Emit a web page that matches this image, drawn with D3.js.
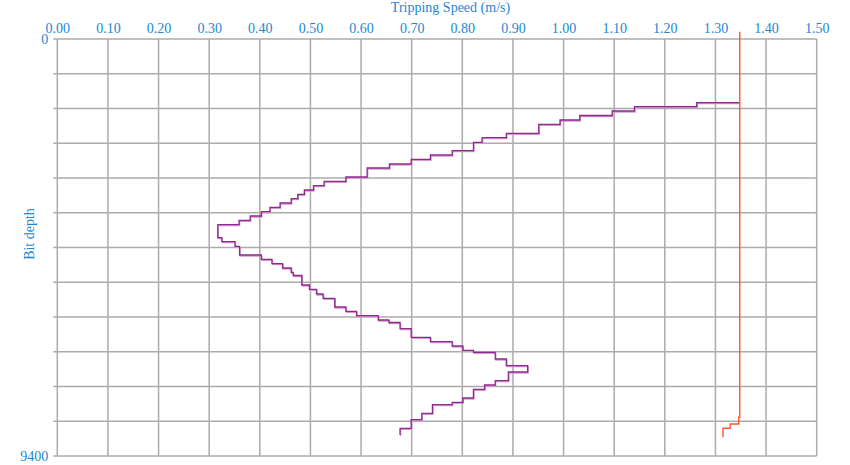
<!DOCTYPE html>
<html>
<head>
<meta charset="utf-8">
<script src="https://cdn.jsdelivr.net/npm/d3@7"></script>
<style>
  html, body { margin: 0; padding: 0; background: #fff; }
  svg { display: block; }
  text { font-family: "Liberation Serif", "DejaVu Serif", serif; }
</style>
</head>
<body>
<svg id="chart" width="850" height="465"></svg>
<script>
// ---- data ----
const xTickValues = [0, 0.1, 0.2, 0.3, 0.4, 0.5, 0.6, 0.7, 0.8, 0.9, 1.0, 1.1, 1.2, 1.3, 1.4, 1.5];
const yDomain = [0, 9400];
const yGridCount = 12;
const yTickLabels = [0, 9400];
const xTitle = "Tripping Speed (m/s)";
const yTitle = "Bit depth";

// tripping speed profile (speed changes at each depth)
const tripDepth = [1436, 1436, 1526, 1623, 1724, 1826, 1923, 2126, 2225, 2329, 2518, 2615, 2712, 2818, 2908,
  3111, 3208, 3307, 3404, 3501, 3600, 3697, 3794, 3893, 3990, 4087, 4186, 4479, 4569, 4673, 4869, 4966,
  5065, 5162, 5259, 5331, 5545, 5642, 5748, 5845, 6041, 6138, 6237, 6334, 6391, 6530, 6724, 6823, 6920,
  7017, 7062, 7213, 7365, 7506, 7703, 7800, 7896, 8093, 8190, 8244, 8437, 8582, 8776, 8927];
const tripSpeed = [1.348, 1.263, 1.140, 1.096, 1.032, 0.993, 0.951, 0.887, 0.839, 0.822, 0.780, 0.737, 0.699, 0.656, 0.612,
  0.570, 0.527, 0.506, 0.488, 0.475, 0.462, 0.440, 0.420, 0.403, 0.381, 0.359, 0.317, 0.325, 0.351, 0.360, 0.403, 0.424,
  0.445, 0.462, 0.466, 0.483, 0.498, 0.512, 0.525, 0.548, 0.570, 0.591, 0.634, 0.655, 0.677, 0.699, 0.737, 0.780, 0.801,
  0.822, 0.865, 0.887, 0.929, 0.891, 0.865, 0.844, 0.822, 0.801, 0.780, 0.741, 0.720, 0.699, 0.677, 0.677];

// limit speed profile
const limitDepth = [-165, 8528, 8679, 8776, 8978];
const limitSpeed = [1.348, 1.346, 1.329, 1.315, 1.315];

// ---- layout ----
const svg = d3.select("#chart");
const W = 850, H = 465;
const plot = { left: 57.3, right: 816.7, top: 39, bottom: 456 };
const blue = "#1c87d0";
const gridColor = "#ababab";

const x = d3.scaleLinear().domain([0, 1.5]).range([plot.left, plot.right]);
const y = d3.scaleLinear().domain(yDomain).range([plot.top, plot.bottom]);
const yGridValues = d3.range(yGridCount + 1).map(i => yDomain[0] + i * (yDomain[1] - yDomain[0]) / yGridCount);

svg.append("rect").attr("width", W).attr("height", H).attr("fill", "#fff");

// vertical grid lines
svg.append("g").selectAll("line").data(xTickValues).join("line")
  .attr("x1", d => x(d)).attr("x2", d => x(d))
  .attr("y1", plot.top).attr("y2", plot.bottom)
  .attr("stroke", gridColor).attr("stroke-width", 1.5);

// horizontal grid lines (with small left ticks)
svg.append("g").selectAll("line").data(yGridValues).join("line")
  .attr("x1", plot.left - 4).attr("x2", plot.right)
  .attr("y1", d => y(d)).attr("y2", d => y(d))
  .attr("stroke", gridColor).attr("stroke-width", 1.5);

// top axis labels
const xAxis = d3.axisTop(x).tickValues(xTickValues).tickFormat(d3.format(".2f")).tickSize(0).tickPadding(6);
const gx = svg.append("g").attr("transform", `translate(0,${plot.top})`).call(xAxis);
gx.select(".domain").remove();
gx.selectAll("text").attr("fill", blue).attr("font-size", 14)
  .attr("font-family", "Liberation Serif, serif");

// left axis labels
const yAxis = d3.axisLeft(y).tickValues(yTickLabels).tickFormat(d3.format("d")).tickSize(0).tickPadding(9);
const gy = svg.append("g").attr("transform", `translate(${plot.left},0)`).call(yAxis);
gy.select(".domain").remove();
gy.selectAll("text").attr("fill", blue).attr("font-size", 14)
  .attr("font-family", "Liberation Serif, serif");

// axis titles
svg.append("text").attr("x", 450.5).attr("y", 12)
  .attr("text-anchor", "middle").attr("font-size", 14).attr("fill", blue).text(xTitle);
svg.append("text").attr("transform", "translate(34,234) rotate(-90)")
  .attr("text-anchor", "middle").attr("font-size", 14).attr("fill", blue).text(yTitle);

// lines
const line = d3.line().x(d => x(d[0])).y(d => y(d[1])).curve(d3.curveStepBefore);
const tripData = tripSpeed.map((s, i) => [s, tripDepth[i]]);
const limitData = limitSpeed.map((s, i) => [s, limitDepth[i]]);

svg.append("path").datum(tripData).attr("d", line)
  .attr("fill", "none").attr("stroke", "#d29bd0").attr("stroke-width", 1.3)
  .attr("transform", "translate(0.6,1)");
svg.append("path").datum(tripData).attr("d", line)
  .attr("fill", "none").attr("stroke", "#8f2a8c").attr("stroke-width", 1.3);

svg.append("path").datum(limitData).attr("d", line)
  .attr("fill", "none").attr("stroke", "#ff5533").attr("stroke-width", 1.4);
</script>
</body>
</html>
